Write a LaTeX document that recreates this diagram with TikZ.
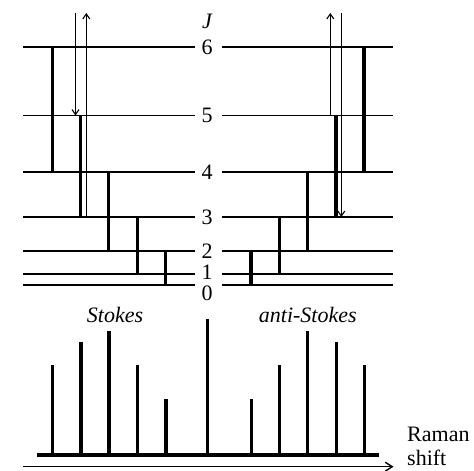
\documentclass[tikz,border=0pt]{standalone}
\usepackage{fontspec}
\setmainfont{Liberation Serif}
\usetikzlibrary{arrows.meta}
\begin{document}
\begin{tikzpicture}[x=1pt,y=-1pt,
  level/.style={line width=1.6pt},
  trans/.style={line width=3.4pt},
  photon/.style={line width=1pt,-{Straight Barb[length=5pt,width=7pt,line width=1.1pt]}},
  peak/.style={line width=3.4pt},
  lbl/.style={inner sep=0pt,font=\fontsize{22}{26}\selectfont},
  txt/.style={inner sep=0pt,font=\fontsize{22}{26}\selectfont}]
\useasboundingbox (0,0) rectangle (474,471);
% level y-values
\def\ysix{47}\def\yfive{115.5}\def\yfour{172}\def\ythree{217}\def\ytwo{251}\def\yone{273.7}\def\yzero{285}
% level lines
\foreach \n/\y in {6/\ysix,5/\yfive,4/\yfour,3/\ythree,2/\ytwo,1/\yone,0/\yzero}{
  \coordinate (la\n) at (23,\y);
  \coordinate (lb\n) at (195,\y);
  \coordinate (ra\n) at (222,\y);
  \coordinate (rb\n) at (393,\y);
  \draw[level] (la\n) -- (lb\n);
  \draw[level] (ra\n) -- (rb\n);
}
% labels
\node[lbl] (J) at (207,21) {\itshape J};
\foreach \n/\y in {6/\ysix,5/\yfive,4/\yfour,3/\ythree,2/\ytwo}{
  \node[lbl] (n\n) at (207,\y) {\n};
}
\node[lbl] (n1) at (207,272.5) {1};
\node[lbl] (n0) at (207,293) {0};
% Stokes transitions (left)
\foreach \x/\a/\b in {52.7/\ysix/\yfour, 80.7/\yfive/\ythree, 108.7/\yfour/\ytwo, 137.7/\ythree/\yone, 165.7/\ytwo/\yzero}{
  \draw[trans] (\x,\a) -- (\x,\b);
}
% anti-Stokes transitions (right)
\foreach \x/\a/\b in {251/\ytwo/\yzero, 279.3/\ythree/\yone, 307.5/\yfour/\ytwo, 336/\yfive/\ythree, 364/\ysix/\yfour}{
  \draw[trans] (\x,\a) -- (\x,\b);
}
% photons
\coordinate (p1a) at (75.5,13); \coordinate (p1b) at (75.5,\yfive);
\coordinate (p2a) at (86.3,\ythree); \coordinate (p2b) at (86.3,13);
\coordinate (p3a) at (330.3,\yfive); \coordinate (p3b) at (330.3,13);
\coordinate (p4a) at (341.3,13); \coordinate (p4b) at (341.3,\ythree);
\draw[photon] (p1a) -- (p1b);
\draw[photon] (p2a) -- (p2b);
\draw[photon] (p3a) -- (p3b);
\draw[photon] (p4a) -- (p4b);
% spectrum
\node[txt] (stokes) at (115,315) {\itshape Stokes};
\node[txt] (astokes) at (307.8,315) {\itshape anti-Stokes};
\coordinate (b0) at (37.3,455); \coordinate (b1) at (379,455);
\foreach \x/\t in {52.3/365, 81/342, 109/331, 137.3/365, 166/399, 207.7/319, 251.3/399, 279.7/365, 307.3/331, 336.3/342, 364.3/365}{
  \draw[peak] (\x,455) -- (\x,\t);
}
\draw[peak] (b0) -- (b1);
\coordinate (ax0) at (22.7,466.7); \coordinate (ax1) at (393.5,466.7);
\draw[line width=1.4pt,-{Straight Barb[length=7pt,width=9pt]}] (ax0) -- (ax1);
\node[txt,anchor=base west] (raman) at (407,441) {Raman};
\node[txt,anchor=base west] (shift) at (407,465) {shift};
\end{tikzpicture}
\end{document}
